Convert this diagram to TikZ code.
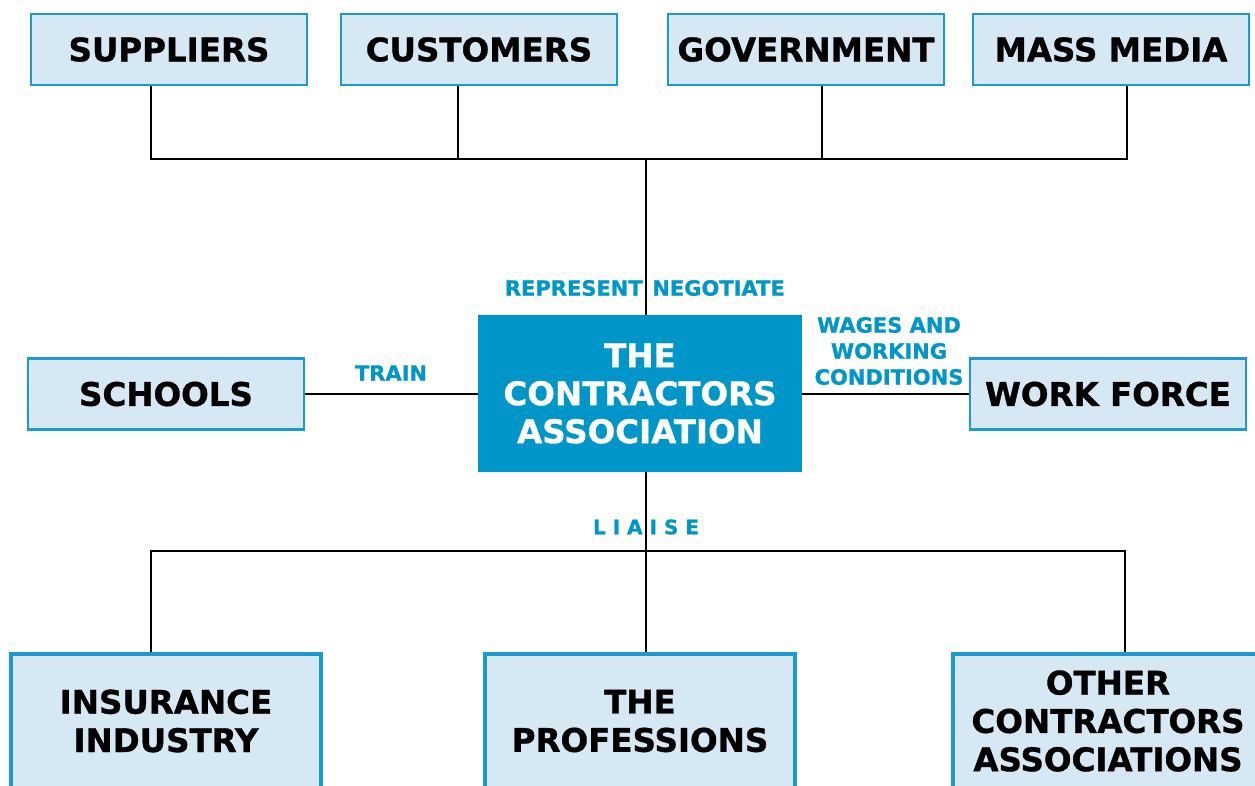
\documentclass[tikz,border=0pt]{standalone}
\usepackage{fontspec}
\setmainfont[BoldFeatures={FakeBold=1}]{DejaVu Sans}
\definecolor{bdr}{HTML}{1A9ACF}
\definecolor{lfill}{HTML}{D7E8F5}
\definecolor{cfill}{HTML}{0096C9}
\definecolor{lblue}{HTML}{0096C9}
\tikzset{
  topbox/.style={draw=bdr, line width=1.5pt, fill=lfill, inner sep=0pt,
    minimum width=165.6pt, minimum height=42.6pt, align=center,
    font=\fontsize{19.5}{23}\selectfont\bfseries},
  botbox/.style={draw=bdr, line width=2.4pt, fill=lfill, inner sep=0pt,
    minimum width=186pt, minimum height=80.4pt, align=center,
    font=\fontsize{19.5}{23}\selectfont\bfseries},
  centerbox/.style={fill=cfill, text=white, inner sep=0pt,
    minimum width=194.4pt, minimum height=94.2pt, align=center,
    font=\fontsize{19.5}{22.8}\selectfont\bfseries},
  lbl/.style={text=lblue, inner sep=0pt, align=center,
    font=\fontsize{12.6}{15.6}\selectfont\bfseries},
  wire/.style={line width=1.4pt, black}
}
\begin{document}
\begin{tikzpicture}[x=0.6pt, y=-0.6pt]
\useasboundingbox (0,0) rectangle (1255,785);
\clip (0,0) rectangle (1255,785);
% bus coordinates
\coordinate (t1) at (151,159);
\coordinate (t2) at (458,159);
\coordinate (hub) at (646,159);
\coordinate (t3) at (822,159);
\coordinate (t4) at (1127,159);
\coordinate (b1) at (151,551);
\coordinate (bh) at (646,551);
\coordinate (b3) at (1125,551);

% boxes
\node[topbox] (sup) at (169,49.5) {SUPPLIERS};
\node[topbox] (cus) at (479,49.5) {CUSTOMERS};
\node[topbox] (gov) at (806,49.5) {GOVERNMENT};
\node[topbox] (med) at (1111,49.5) {MASS MEDIA};
\node[centerbox] (ca) at (640,393.5) {THE\\CONTRACTORS\\ASSOCIATION};
\node[topbox] (sch) at (166,394) {SCHOOLS};
\node[topbox] (wf) at (1108,394) {WORK FORCE};
\node[botbox] (ins) at (166,721) {INSURANCE\\INDUSTRY};
\node[botbox] (pro) at (640,721) {THE\\PROFESSIONS};
\node[botbox] (oth) at (1108,721) {OTHER\\CONTRACTORS\\ASSOCIATIONS};

% connectors
\draw[wire] (t1 |- sup.south) -- (t1) -- (t4) -- (t4 |- med.south);
\draw[wire] (t2 |- cus.south) -- (t2);
\draw[wire] (t3 |- gov.south) -- (t3);
\draw[wire] (hub) -- (hub |- ca.north);
\draw[wire] (sch.east) -- (sch.east -| ca.west);
\draw[wire] (ca.east |- wf.west) -- (wf.west);
\draw[wire] (bh |- ca.south) -- (bh |- pro.north);
\draw[wire] (b1 |- ins.north) -- (b1) -- (b3) -- (b3 |- oth.north);

% labels
\node[lbl, anchor=east] (rep) at (643,288) {REPRESENT};
\node[lbl, anchor=west] (neg) at (652,288) {NEGOTIATE};
\node[lbl] (train) at (391,373) {TRAIN};
\node[lbl] (wages) at (889,351) {WAGES AND\\WORKING\\CONDITIONS};
\node[lbl, font=\fontsize{12}{15}\selectfont\bfseries] (liaise) at (646,527) {L I A I S E};
\end{tikzpicture}
\end{document}
